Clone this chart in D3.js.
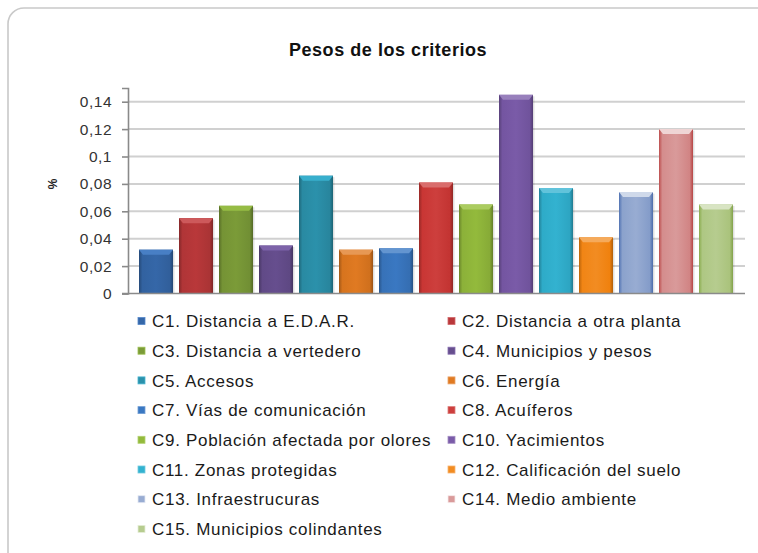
<!DOCTYPE html>
<html>
<head>
<meta charset="utf-8">
<script src="https://cdn.jsdelivr.net/npm/d3@7"></script>
<style>
  html, body { margin: 0; padding: 0; background: #fff; }
  svg { display: block; font-family: "Liberation Sans", Arial, sans-serif; }
</style>
</head>
<body>
<svg id="chart" width="758" height="553"></svg>
<script>
// Criteria and their weights
const categories = [
  "C1. Distancia a E.D.A.R.",
  "C2. Distancia a otra planta",
  "C3. Distancia a vertedero",
  "C4. Municipios y pesos",
  "C5. Accesos",
  "C6. Energía",
  "C7. Vías de comunicación",
  "C8. Acuíferos",
  "C9. Población afectada por olores",
  "C10. Yacimientos",
  "C11. Zonas protegidas",
  "C12. Calificación del suelo",
  "C13. Infraestrucuras",
  "C14. Medio ambiente",
  "C15. Municipios colindantes"
];
const weights = [0.032, 0.055, 0.064, 0.035, 0.086, 0.032, 0.033, 0.081, 0.065, 0.145, 0.077, 0.041, 0.074, 0.120, 0.065];
const barColors = [
  "#3567a8", "#b9383a", "#7b9b38", "#664e8e", "#2b91ab", "#e07a22",
  "#3a78c2", "#cd3f3d", "#93ba3c", "#7a5ba8", "#33b2d0", "#f28c22",
  "#98acd2", "#d99a9a", "#b6cc8f"
];
const yTicks = [0, 0.02, 0.04, 0.06, 0.08, 0.1, 0.12, 0.14];
const tickLabels = ["0", "0,02", "0,04", "0,06", "0,08", "0,1", "0,12", "0,14"];

const svg = d3.select("#chart");
const defs = svg.append("defs");

// Chart frame (rounded corner, only top/left edges inside the view)
svg.append("rect")
  .attr("x", 8).attr("y", 8)
  .attr("width", 820).attr("height", 620)
  .attr("rx", 16).attr("ry", 16)
  .attr("fill", "#fff")
  .attr("stroke", "#c9c9c9")
  .attr("stroke-width", 1.6);

// Title
svg.append("text")
  .attr("x", 388).attr("y", 55.5)
  .attr("text-anchor", "middle")
  .attr("font-size", 18).attr("font-weight", "bold")
  .attr("letter-spacing", 0.55)
  .attr("fill", "#111")
  .text("Pesos de los criterios");

const plotLeft = 128, plotRight = 745;
const x = d3.scaleBand()
  .domain(categories)
  .range([136, 736])
  .paddingInner(0.15)
  .paddingOuter(0.075);
const y = d3.scaleLinear().domain([0, 0.15]).range([293.5, 88]);

// Gridlines
svg.append("g")
  .selectAll("line")
  .data(yTicks.filter(d => d > 0))
  .join("line")
  .attr("x1", plotLeft).attr("x2", plotRight)
  .attr("y1", d => y(d)).attr("y2", d => y(d))
  .attr("stroke", "#d0d0d0").attr("stroke-width", 2);

// Y axis
const yAxis = d3.axisLeft(y)
  .tickValues(yTicks)
  .tickFormat((d, i) => tickLabels[i])
  .tickSize(6)
  .tickPadding(10);
const yG = svg.append("g")
  .attr("transform", `translate(${plotLeft},0)`)
  .call(yAxis);
yG.select(".domain").attr("stroke", "#8a8a8a").attr("stroke-width", 1.6);
yG.selectAll(".tick line").attr("stroke", "#8a8a8a").attr("stroke-width", 1.6);
yG.selectAll(".tick text")
  .attr("font-size", 15.5)
  .attr("letter-spacing", 0.5)
  .attr("font-family", "'Liberation Sans', Arial, sans-serif")
  .attr("fill", "#333");

// Y axis title
svg.append("text")
  .attr("transform", "translate(57,184) rotate(-90)")
  .attr("text-anchor", "middle")
  .attr("font-size", 12).attr("font-weight", "bold")
  .attr("fill", "#222")
  .text("%");

// Gradients for bevelled bars
function shade(c, k) {
  const h = d3.hsl(c);
  h.l = Math.max(0, Math.min(1, h.l * k));
  return h.formatHex();
}
barColors.forEach((c, i) => {
  const g = defs.append("linearGradient")
    .attr("id", "bar" + i).attr("x1", 0).attr("x2", 1).attr("y1", 0).attr("y2", 0);
  g.append("stop").attr("offset", 0).attr("stop-color", shade(c, 0.72));
  g.append("stop").attr("offset", 0.1).attr("stop-color", shade(c, 0.95));
  g.append("stop").attr("offset", 0.5).attr("stop-color", c);
  g.append("stop").attr("offset", 0.9).attr("stop-color", shade(c, 0.92));
  g.append("stop").attr("offset", 1).attr("stop-color", shade(c, 0.68));
});

const bars = svg.append("g")
  .selectAll("g")
  .data(categories.map((c, i) => ({ c, v: weights[i], i })))
  .join("g");

// soft shadow
bars.append("rect")
  .attr("x", d => x(d.c) + 1.5)
  .attr("y", d => y(d.v) + 1.5)
  .attr("width", x.bandwidth())
  .attr("height", d => y(0) - y(d.v) - 1.5)
  .attr("fill", "#000").attr("opacity", 0.12);

bars.append("rect")
  .attr("x", d => x(d.c))
  .attr("y", d => y(d.v))
  .attr("width", x.bandwidth())
  .attr("height", d => y(0) - y(d.v))
  .attr("fill", d => `url(#bar${d.i})`);

// top bevel
bars.append("path")
  .attr("d", d => {
    const x0 = x(d.c), x1 = x0 + x.bandwidth(), t = y(d.v), b = 5;
    return `M${x0},${t}L${x1},${t}L${x1 - 4},${t + b}L${x0 + 4},${t + b}Z`;
  })
  .attr("fill", d => shade(barColors[d.i], 1.22));

// X axis line
svg.append("line")
  .attr("x1", 122).attr("x2", plotRight)
  .attr("y1", y(0)).attr("y2", y(0))
  .attr("stroke", "#8a8a8a").attr("stroke-width", 1.6);

// Legend: two columns
const legend = svg.append("g");
const items = legend.selectAll("g")
  .data(categories.map((c, i) => ({ c, i })))
  .join("g")
  .attr("transform", d => {
    const col = d.i % 2, row = Math.floor(d.i / 2);
    return `translate(${col ? 448 : 138},${321 + row * 29.7})`;
  });
items.append("rect")
  .attr("x", 0).attr("y", -3.5)
  .attr("width", 7).attr("height", 7)
  .attr("fill", d => barColors[d.i])
  .attr("stroke", d => shade(barColors[d.i], 1.3)).attr("stroke-width", 0.8);
items.append("text")
  .attr("x", 14).attr("y", 0)
  .attr("dy", "0.36em")
  .attr("font-size", 17)
  .attr("letter-spacing", 0.7)
  .attr("fill", "#1a1a1a")
  .text(d => d.c);
</script>
</body>
</html>
